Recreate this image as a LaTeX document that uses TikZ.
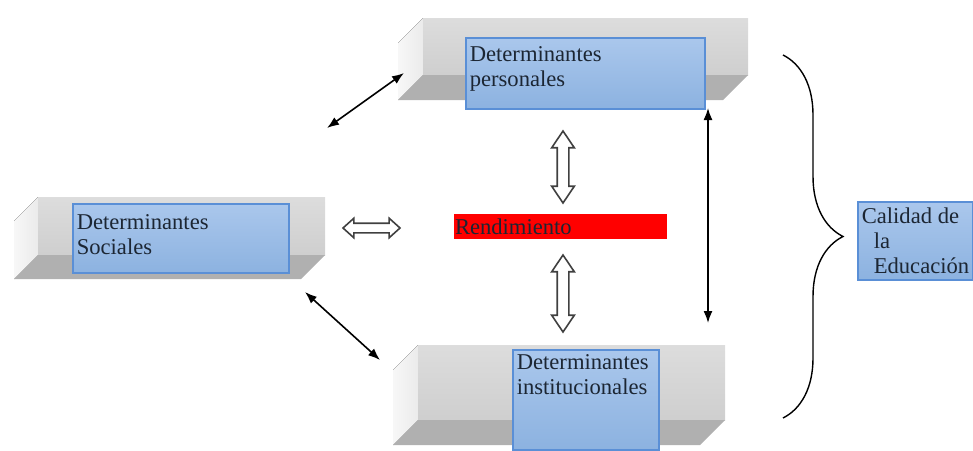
\documentclass[tikz,border=0pt]{standalone}
\usepackage{fontspec}
\setmainfont{Liberation Serif}
\usetikzlibrary{arrows.meta,shapes.arrows,decorations.pathreplacing,fit}
\definecolor{boxtop}{HTML}{AAC7EC}
\definecolor{boxbot}{HTML}{8CB2E0}
\definecolor{boxline}{HTML}{5A8FD6}
\definecolor{txt}{HTML}{1C2633}
% front face x1 y1 x2 y2, depth
\newcommand{\drawslab}[5]{%
  \fill[slabside] ({#1-#5},{#2+#5}) -- (#1,#2) -- (#1,#4) -- ({#1-#5},{#4+#5}) -- cycle;
  \fill[slabfront] (#1,#2) rectangle (#3,#4);
  \fill[slabbottom] ({#1-#5},{#4+#5}) -- (#1,#4) -- (#3,#4) -- ({#3-#5},{#4+#5}) -- cycle;
}
\begin{document}
\begin{tikzpicture}[
        x=0.5pt, y=-0.5pt,
        slabfront/.style={top color=gray!27, bottom color=gray!38},
        slabside/.style={left color=gray!6, right color=gray!16},
        slabbottom/.style={fill=gray!62},
        bluebox/.style={draw=boxline, line width=0.6pt, top color=boxtop, bottom color=boxbot, inner sep=0pt},
        boxtext/.style={anchor=north west, align=left, inner sep=2pt, text=txt, font=\fontsize{11.3}{12.5}\selectfont},
        hollow/.style={shape=double arrow, draw=black!75, fill=white, line width=0.8pt},
        link/.style={{Latex[length=6pt,width=4.5pt]}-{Latex[length=6pt,width=4.5pt]}, line width=0.8pt}
    ]
    \useasboundingbox (0,0) rectangle (973,450);

    \drawslab{423}{18}{748}{75}{25}
    \drawslab{38}{197}{325}{255}{24}
    \drawslab{418}{345}{725}{420}{25}

    \node[bluebox, fit={(466,38) (705,109)},
        label={[boxtext, yshift=-2.5pt]north west:Determinantes\\personales}] (pers) {};
    \node[bluebox, fit={(73,204) (289,273)},
        label={[boxtext, yshift=-3.5pt]north west:Determinantes\\Sociales}] (soc) {};
    \node[bluebox, fit={(513,350) (659,450)},
        label={[boxtext, yshift=-0.5pt]north west:Determinantes\\institucionales}] (inst) {};
    \node[fill=red, inner sep=0pt, fit={(454,214) (667,239)},
        label={[boxtext, anchor=west, inner sep=0.5pt]west:Rendimiento}] (rend) {};
    \node[bluebox, fit={(858,202) (973,280)},
        label={[boxtext, yshift=-1pt]north west:Calidad de\\\hspace*{6pt}la\\\hspace*{6pt}Educación}] (cal) {};

    \node[hollow, minimum height=28.5pt, inner sep=2pt, double arrow head extend=2.5pt,
        double arrow tip angle=84] (hsoc) at (371.5,228) {};
    \node[hollow, rotate=90, minimum height=36pt, inner sep=2.5pt, double arrow head extend=2.75pt,
        double arrow tip angle=68] (vpers) at (563,167) {};
    \node[hollow, rotate=90, minimum height=38.5pt, inner sep=2.5pt, double arrow head extend=2.75pt,
        double arrow tip angle=68] (vinst) at (563,293.5) {};

    \coordinate (ps) at (327,128);
    \coordinate (sp) at (404,73);
    \coordinate (si) at (305,292);
    \coordinate (is) at (380,360);
    \coordinate (pi) at (708,108);
    \coordinate (ip) at (708,323);
    \draw[link] (ps) -- (sp);
    \draw[link] (si) -- (is);
    \draw[link] (pi) -- (ip);

    \coordinate (brtop) at (783,55);
    \coordinate (brbot) at (783,418);
    \draw[line width=0.7pt, decorate, decoration={brace, amplitude=30pt}] (brtop) -- (brbot);
\end{tikzpicture}
\end{document}
